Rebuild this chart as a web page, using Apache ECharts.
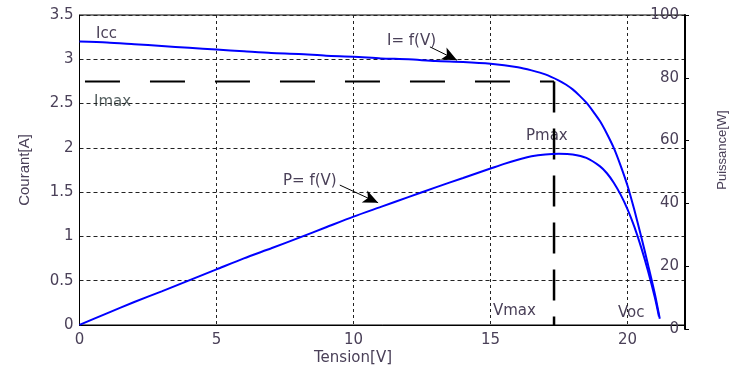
<!DOCTYPE html>
<html><head><meta charset="utf-8">
<script src="https://cdn.jsdelivr.net/npm/echarts@6/dist/echarts.min.js"></script>
<style>html,body{margin:0;padding:0;background:#fff}#c{width:732px;height:374px}</style>
</head><body><div id="c"></div>
<script>
// Tension (V) samples and courant I = f(V) in A (left axis)
const voltageI = [0,1,2,3,4,5,6,7,8,9,10,11,12,13,14,15,16,16.5,17,17.5,17.75,18,18.25,18.5,18.75,19,19.25,19.5,19.75,20,20.25,20.5,20.75,21,21.18];
const current  = [3.2,3.19,3.17,3.15,3.13,3.11,3.09,3.07,3.06,3.04,3.03,3.01,3.0,2.98,2.97,2.95,2.91,2.875,2.83,2.76,2.715,2.66,2.59,2.51,2.41,2.30,2.16,2.0,1.80,1.575,1.30,1.0,0.68,0.35,0.07];
// Tension (V) samples and puissance P = f(V) in W (right axis)
const voltageP = [0,1,2,3,4,5,6,7,8,9,10,11,12,13,14,15,15.5,16,16.5,17,17.5,18,18.5,19,19.25,19.5,19.75,20,20.25,20.5,20.75,21,21.15];
const power    = [1.3,5.0,8.6,12.0,15.5,19.0,22.5,25.7,29.0,32.4,35.8,38.9,42.0,45.1,48.1,51.1,52.6,53.9,55.0,55.6,55.8,55.6,54.5,51.8,49.6,46.6,42.8,38.2,32.6,26.0,18.5,10.0,4.0];
// Maximum power point
const Imax = 2.75, Vmax = 17.32, dashStart = 0.2;
// Axis ticks
const xTicks = [0,5,10,15,20];
const leftTicks = [0,0.5,1,1.5,2,2.5,3,3.5];
const rightTicks = [0,20,40,60,80,100];

const FONT = 'DejaVu Sans';
const TXT = '#4a4058';
const zip = (a,b) => a.map((v,i)=>[v,b[i]]);

const chart = echarts.init(document.getElementById('c'));
chart.setOption({
  animation:false,
  backgroundColor:'#fff',
  grid:[
    {left:79.5, right:47, top:15, bottom:49, show:true, borderColor:'#000', borderWidth:1},
    {left:79.5, right:47, top:15, bottom:45}
  ],
  xAxis:[
    {gridIndex:0, type:'value', min:0, max:22.1, interval:5,
     axisLine:{show:true, lineStyle:{color:'#000', width:1}},
     axisTick:{show:false},
     axisLabel:{color:TXT, fontFamily:FONT, fontSize:15, margin:8,
       formatter:v=> xTicks.includes(v)? String(v):''},
     splitLine:{show:true, lineStyle:{color:'#222', type:[3,3], width:1}}},
    {gridIndex:1, type:'value', min:0, max:22.1, show:false}
  ],
  yAxis:[
    {gridIndex:0, type:'value', min:0, max:3.5, interval:0.5,
     axisLine:{show:true, lineStyle:{color:'#000', width:1}},
     axisTick:{show:false},
     axisLabel:{color:TXT, fontFamily:FONT, fontSize:15, margin:6,
       formatter:v=> leftTicks.includes(v)? String(v):''},
     splitLine:{show:true, lineStyle:{color:'#222', type:[4,3], width:1}}},
    {gridIndex:1, type:'value', position:'right', min:0, max:100, interval:20,
     axisLine:{show:true, onZero:false, lineStyle:{color:'#000', width:2}},
     axisTick:{show:true, inside:false, length:4, lineStyle:{color:'#000', width:1}},
     axisLabel:{inside:true, color:TXT, fontFamily:FONT, fontSize:15, margin:6,
       formatter:v=> rightTicks.includes(v)? String(v):''},
     splitLine:{show:false}}
  ],
  series:[
    {type:'line', name:'I', xAxisIndex:0, yAxisIndex:0, data:zip(voltageI,current),
     showSymbol:false, smooth:0.25, lineStyle:{color:'#0000ff', width:2}, z:5,
     markLine:{silent:true, symbol:['none','arrow'], symbolSize:[10,15],
       lineStyle:{color:'#000', width:1, type:'solid'}, label:{show:false},
       data:[[{coord:[12.79,3.14]},{coord:[13.78,2.99]}],
             [{coord:[9.5,1.58]},{coord:[10.9,1.38]}]]}},
    {type:'line', name:'P', xAxisIndex:1, yAxisIndex:1, data:zip(voltageP,power),
     showSymbol:false, smooth:0.25, lineStyle:{color:'#0000ff', width:2}, z:5},
    {type:'line', name:'Imax', xAxisIndex:0, yAxisIndex:0, data:[[dashStart,Imax],[Vmax,Imax]],
     showSymbol:false, lineStyle:{color:'#000', width:2, type:[35,30]}, z:4},
    {type:'line', name:'Vmax', xAxisIndex:0, yAxisIndex:0, data:[[Vmax,Imax],[Vmax,0]],
     showSymbol:false, lineStyle:{color:'#000', width:2.5, type:[31,16]}, z:4}
  ],
  graphic:[
    {type:'text', x:25, y:170, rotation:Math.PI/2, style:{text:'Courant[A]', fill:TXT, font:'15px Liberation Sans', align:'center', verticalAlign:'middle'}},
    {type:'text', x:722, y:150, rotation:Math.PI/2, style:{text:'Puissance[W]', fill:TXT, font:'13px Liberation Sans', align:'center', verticalAlign:'middle'}},
    {type:'text', x:353, y:358, style:{text:'Tension[V]', fill:TXT, font:'15px '+FONT, align:'center', verticalAlign:'middle'}},
    {type:'text', x:96, y:34, style:{text:'Icc', fill:TXT, font:'15px '+FONT, align:'left', verticalAlign:'middle'}},
    {type:'text', x:94, y:102, style:{text:'Imax', fill:'#556060', font:'15px '+FONT, align:'left', verticalAlign:'middle'}},
    {type:'text', x:387, y:41, style:{text:'I= f(V)', fill:TXT, font:'15px '+FONT, align:'left', verticalAlign:'middle'}},
    {type:'text', x:526, y:136, style:{text:'Pmax', fill:TXT, font:'15px '+FONT, align:'left', verticalAlign:'middle'}},
    {type:'text', x:283, y:181, style:{text:'P= f(V)', fill:TXT, font:'15px '+FONT, align:'left', verticalAlign:'middle'}},
    {type:'text', x:493, y:311, style:{text:'Vmax', fill:TXT, font:'15px '+FONT, align:'left', verticalAlign:'middle'}},
    {type:'text', x:618, y:313, style:{text:'Voc', fill:TXT, font:'15px '+FONT, align:'left', verticalAlign:'middle'}}
  ]
});
</script></body></html>
